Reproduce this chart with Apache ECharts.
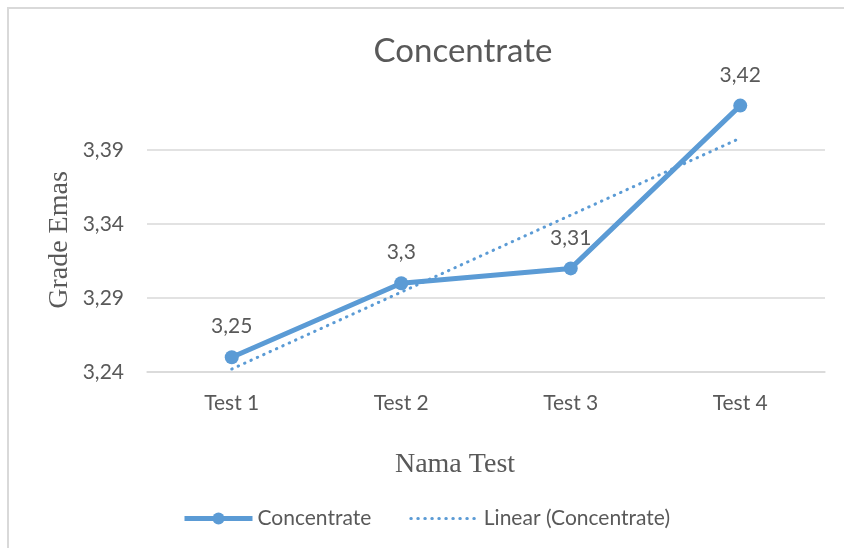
<!DOCTYPE html>
<html>
<head>
<meta charset="utf-8">
<script src="https://cdn.jsdelivr.net/npm/echarts@6/dist/echarts.min.js"></script>
<style>html,body{margin:0;padding:0;background:#fff;}#c{width:844px;height:548px;}</style>
</head>
<body>
<div id="c"></div>
<script>
const categories = ['Test 1', 'Test 2', 'Test 3', 'Test 4'];
const concentrate = [3.25, 3.30, 3.31, 3.42];
const linearTrend = [3.242, 3.294, 3.346, 3.398];
const yTicks = [3.24, 3.29, 3.34, 3.39];

const fmt = v => String(v).replace('.', ',');
const chart = echarts.init(document.getElementById('c'), null, {renderer: 'canvas'});
const textColor = '#595959';
const blue = '#5b9bd5';

chart.setOption({
  backgroundColor: '#fff',
  animation: false,
  graphic: [{
    type: 'rect', shape: {x: 8, y: 8, width: 900, height: 600},
    style: {fill: 'none', stroke: '#d9d9d9', lineWidth: 2}, silent: true
  }, {
    type: 'text', x: 463, y: 51,
    style: {text: 'Concentrate', fill: textColor, font: '33px Lato', textAlign: 'center', textVerticalAlign: 'middle'}
  }, {
    type: 'text', x: 455, y: 465,
    style: {text: 'Nama Test', fill: textColor, font: '28px "Liberation Serif"', textAlign: 'center', textVerticalAlign: 'middle'}
  }, {
    type: 'text', x: 60, y: 240, rotation: Math.PI / 2,
    style: {text: 'Grade Emas', fill: textColor, font: '28px "Liberation Serif"', textAlign: 'center', textVerticalAlign: 'middle'}
  }],
  grid: {left: 147, right: 19, top: 76, bottom: 176, containLabel: false},
  legend: {
    left: 177, top: 503,
    itemWidth: 68, itemHeight: 15, itemGap: 38,
    textStyle: {color: textColor, fontFamily: 'Lato', fontSize: 21},
    data: [
      {name: 'Concentrate', lineStyle: {width: 5}},
      {name: 'Linear (Concentrate)', lineStyle: {width: 3},
        itemStyle: {color: 'rgba(0,0,0,0)', borderWidth: 0, opacity: 0}}
    ]
  },
  xAxis: {
    type: 'category', data: categories, boundaryGap: true,
    axisLine: {show: true, lineStyle: {color: '#d9d9d9', width: 1.5}},
    axisTick: {show: false},
    axisLabel: {color: textColor, fontFamily: 'Lato', fontSize: 21, margin: 21}
  },
  yAxis: {
    type: 'value', min: 3.24, max: 3.44, interval: 0.05,
    axisLine: {show: false}, axisTick: {show: false},
    axisLabel: {
      color: textColor, fontFamily: 'Lato', fontSize: 21, margin: 23,
      formatter: v => {
        const s = Number(v).toFixed(2);
        return yTicks.map(t => t.toFixed(2)).includes(s) ? s.replace('.', ',') : '';
      }
    },
    splitLine: {show: true, lineStyle: {color: ['#d9d9d9', '#d9d9d9', '#d9d9d9', '#d9d9d9', 'rgba(0,0,0,0)'], width: 1.5}}
  },
  series: [{
    name: 'Concentrate', type: 'line', data: concentrate,
    symbol: 'circle', symbolSize: 14,
    lineStyle: {color: blue, width: 5}, itemStyle: {color: blue},
    label: {show: true, position: 'top', distance: 13, color: textColor, fontFamily: 'Lato', fontSize: 21,
      formatter: p => fmt(p.value)},
    z: 3
  }, {
    name: 'Linear (Concentrate)', type: 'line', data: linearTrend,
    symbol: 'none', showSymbol: false,
    lineStyle: {color: blue, width: 3, type: [0.5, 6.5], cap: 'round'}, itemStyle: {color: blue},
    z: 2
  }]
});
</script>
</body>
</html>
